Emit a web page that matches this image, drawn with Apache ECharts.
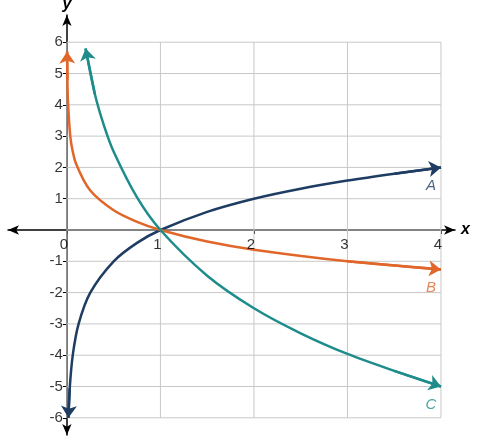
<!DOCTYPE html><html><head><meta charset="utf-8"><script src="https://cdn.jsdelivr.net/npm/echarts@6/dist/echarts.min.js"></script></head><body style="margin:0"><div id="c" style="width:487px;height:440px"></div><script>
const xTicks=[0,1,2,3,4];
const yTicks=[-6,-5,-4,-3,-2,-1,1,2,3,4,5,6];
const curveA=[[0.016,-6],[0.03,-5.06],[0.0625,-4],[0.125,-3],[0.25,-2],[0.5,-1],[0.75,-0.41],[1,0],[1.5,0.58],[2,1],[2.5,1.32],[3,1.58],[3.5,1.8],[4,2]];
const curveB=[[0.002,5.7],[0.005,4.8],[0.01,4.2],[0.03,3.2],[0.05,2.7],[0.1,2.1],[0.25,1.26],[0.5,0.63],[0.75,0.26],[1,0],[1.5,-0.37],[2,-0.63],[3,-1],[4,-1.26]];
const curveC=[[0.2,5.8],[0.3,4.33],[0.4,3.3],[0.5,2.5],[0.75,1.04],[1,0],[1.5,-1.46],[2,-2.5],[2.5,-3.3],[3,-3.96],[3.5,-4.5],[4,-5.0]];
const names=['A','B','C'];
const colors=['#1f3d63','#e0662a','#1f8c8c'];
const grid=[];
xTicks.forEach(x=>{grid.push([x,-6],[x,6],'-');});
yTicks.concat([0]).forEach(y=>{grid.push([0,y],[4,y],'-');});
const curves=[curveA,curveB,curveC];
const tf={color:'#000',fontSize:15,fontFamily:'Liberation Sans'};
const series=[{type:'line',data:grid,showSymbol:false,silent:true,lineStyle:{color:'#c8c8c8',width:1},connectNulls:false},
 {type:'scatter',data:xTicks.map(x=>[x,0]),symbolSize:0,z:8,label:{show:true,position:'bottom',offset:[x=>0,2],formatter:p=>String(p.value[0]),...tf}},
 {type:'scatter',data:yTicks.map(y=>[0,y]),symbolSize:0,z:8,label:{show:true,position:'left',distance:4,formatter:p=>String(p.value[1]),...tf}}];
series[1].label.offset=[-3,2];
curves.forEach((c,i)=>{
 series.push({type:'line',data:c,smooth:0.3,showSymbol:false,lineStyle:{color:colors[i],width:2.5},z:5});
 const n=c.length;
 const ends=[[c[1],c[0]],[c[n-2],c[n-1]]];
 series.push({type:'lines',coordinateSystem:'cartesian2d',symbol:['none','arrow'],symbolSize:12,z:6,
  lineStyle:{color:colors[i],width:2.5,opacity:1},data:ends.map(e=>({coords:e}))});
 series.push({type:'scatter',data:[c[n-1]],symbolSize:0,z:7,label:{show:true,formatter:names[i],position:'bottom',offset:[-10,6],color:colors[i],fontStyle:'italic',fontSize:15,fontFamily:'Liberation Sans'}});
});
const ch=echarts.init(document.getElementById('c'));
ch.setOption({animation:false,
 grid:{left:8,right:32,top:15,bottom:5,outerBoundsMode:'none',containLabel:false},
 xAxis:{type:'value',min:-0.63,max:4.15,name:'x',nameGap:6,nameTextStyle:{fontStyle:'italic',fontWeight:'bold',fontSize:16,fontFamily:'Liberation Sans',color:'#000'},
  axisLine:{onZero:true,symbol:['arrow','arrow'],symbolSize:[7,11],lineStyle:{color:'#000',width:1.5}},
  axisTick:{customValues:xTicks,length:4,lineStyle:{color:'#000'}},
  axisLabel:{show:false},splitLine:{show:false}},
 yAxis:{type:'value',min:-6.55,max:6.87,name:'y',nameLocation:'end',nameGap:2,nameTextStyle:{fontStyle:'italic',fontWeight:'bold',fontSize:16,fontFamily:'Liberation Sans',color:'#000'},
  axisLine:{onZero:true,symbol:['arrow','arrow'],symbolSize:[7,11],lineStyle:{color:'#000',width:1.5}},
  axisTick:{customValues:yTicks,length:4,lineStyle:{color:'#000'}},
  axisLabel:{show:false},splitLine:{show:false}},
 series});
</script></body></html>
